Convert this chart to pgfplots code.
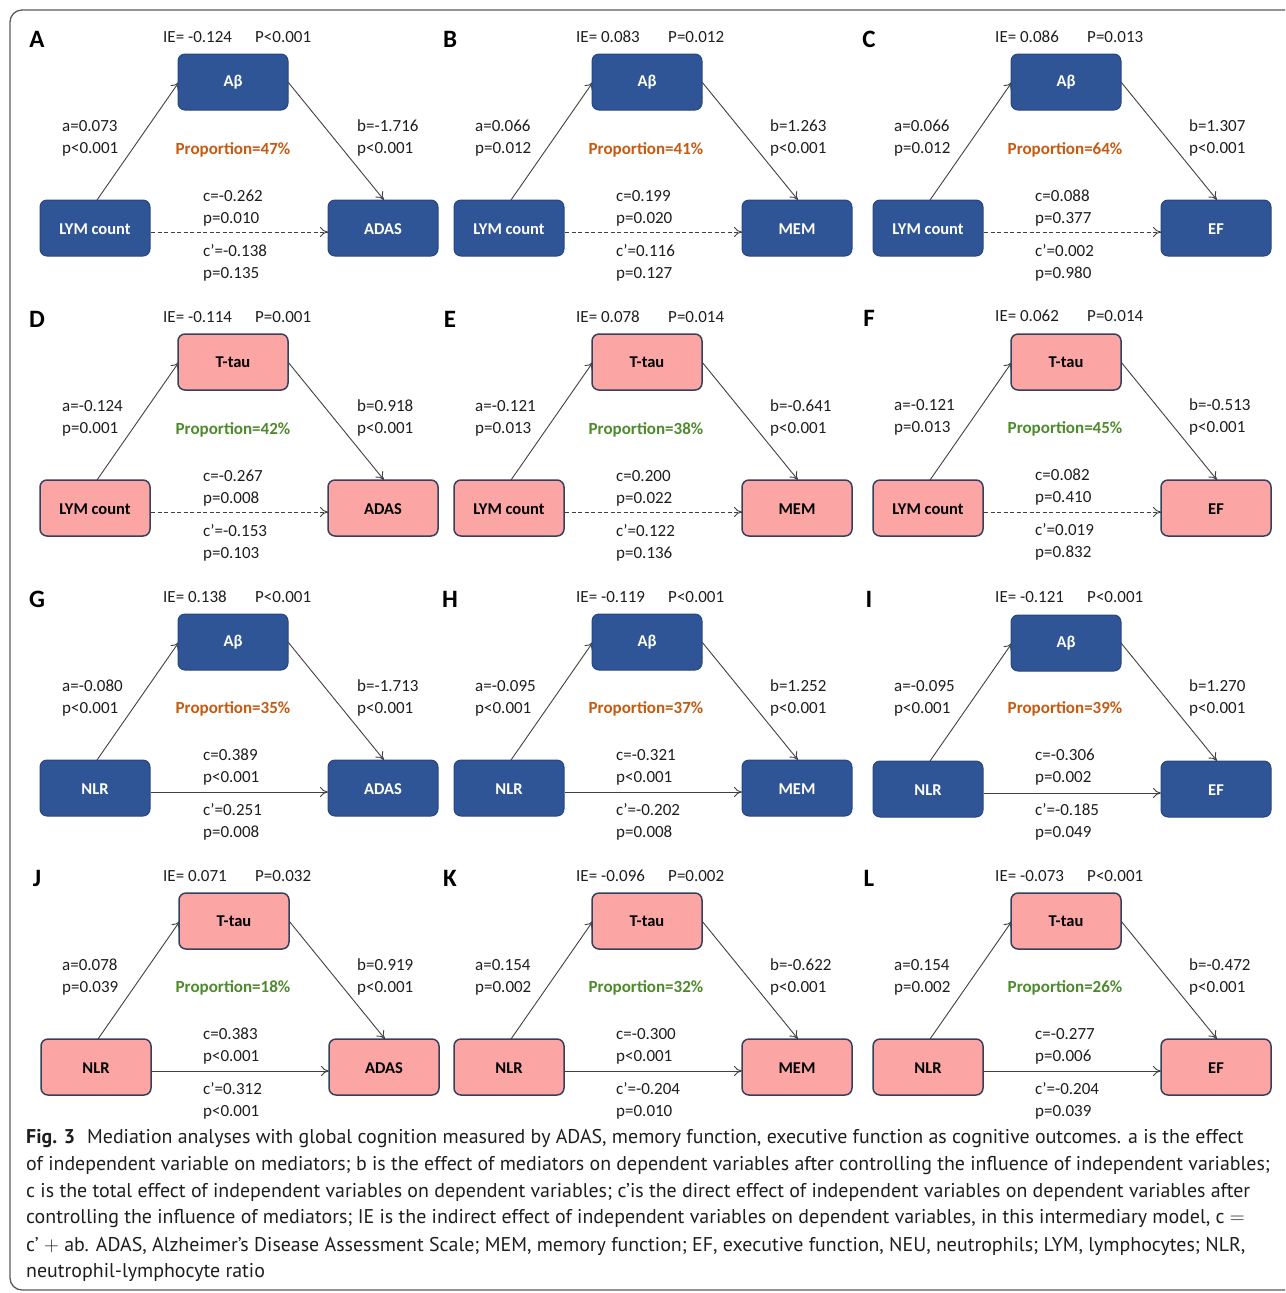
\documentclass[border=0pt]{standalone}
\usepackage{pgfplots}
\pgfplotsset{compat=1.18}
\usepackage{fontspec}
\setmainfont{Carlito}
\newfontfamily\capfont{PT Sans}
\usetikzlibrary{arrows.meta}
\definecolor{boxblue}{HTML}{2F5597}
\definecolor{boxblueedge}{HTML}{25467F}
\definecolor{boxpink}{HTML}{FCA5A5}
\definecolor{boxpinkedge}{HTML}{34405E}
\definecolor{proporange}{HTML}{C55A11}
\definecolor{propgreen}{HTML}{4E8A2C}
\definecolor{txt}{HTML}{1E1E1E}
\definecolor{linegray}{HTML}{404040}
\definecolor{framegray}{HTML}{5A5A5A}

\newcommand{\tf}{\fontsize{17bp}{20bp}\selectfont}
\newcommand{\boxfnt}{\fontsize{16.5bp}{20bp}\selectfont\bfseries}
\newcommand{\capf}{\capfont\fontsize{19.9bp}{24bp}\selectfont}

% rounded box: dx dy x1 y1 style
\newcommand{\bx}[5]{%
\addplot[#5, rounded corners=7bp] table[header=false,row sep=\\,
  x expr={#1+#3+\thisrowno{0}*110}, y expr={#2+#4+\thisrowno{1}*56}]
  {0.5 0\\ 1 0\\ 1 1\\ 0 1\\ 0 0\\ 0.5 0\\};}

% straight arrow: dx dy x1 y1 x2 y2 style
\newcommand{\arr}[7]{%
\addplot[linegray, line width=0.9bp, -{To[length=8bp,width=10bp]}, #7] table[header=false,row sep=\\,
  x expr={#1+\thisrowno{0}}, y expr={#2+\thisrowno{1}}]
  {#3 #4\\ #5 #6\\};}

% boxes and arrows: dx dy boxstyle textcolor mediator X Y linestyle
\newcommand{\diagram}[8]{%
 \arr{#1}{#2}{97}{200}{179}{82}{}
 \arr{#1}{#2}{288}{82}{384}{200}{}
 \arr{#1}{#2}{151}{232}{328}{232}{#8}
 \bx{#1}{#2}{178}{54}{#3}
 \bx{#1}{#2}{40}{200}{#3}
 \bx{#1}{#2}{328}{200}{#3}
 \node[font=\boxfnt, text=#4] at (axis cs:{233+#1},{82+#2}) {#5};
 \node[font=\boxfnt, text=#4] at (axis cs:{95+#1},{229+#2}) {#6};
 \node[font=\boxfnt, text=#4] at (axis cs:{383+#1},{229+#2}) {#7};
}
% labels: dx dy letter IE P a pa b pb
\newcommand{\labs}[9]{%
 \node[font=\fontsize{25bp}{28bp}\selectfont\bfseries, text=black] at (axis cs:{37+#1},{39+#2}) {#3};
 \node[anchor=west, inner sep=0pt, font=\tf, text=txt] at (axis cs:{163+#1},{37+#2}) {IE= #4};
 \node[anchor=west, inner sep=0pt, font=\tf, text=txt] at (axis cs:{255+#1},{37+#2}) {#5};
 \node[anchor=west, inner sep=0pt, font=\tf, text=txt] at (axis cs:{62+#1},{126+#2}) {#6};
 \node[anchor=west, inner sep=0pt, font=\tf, text=txt] at (axis cs:{62+#1},{149+#2}) {#7};
 \node[anchor=west, inner sep=0pt, font=\tf, text=txt] at (axis cs:{357+#1},{126+#2}) {#8};
 \node[anchor=west, inner sep=0pt, font=\tf, text=txt] at (axis cs:{357+#1},{149+#2}) {#9};
}
% middle: dx dy propcolor prop c pc cp pcp
\newcommand{\midl}[8]{%
 \node[inner sep=0pt, font=\tf\bfseries, text=#3] at (axis cs:{233+#1},{149.5+#2}) {Proportion=#4\%};
 \node[anchor=west, inner sep=0pt, font=\tf, text=txt] at (axis cs:{203+#1},{196+#2}) {#5};
 \node[anchor=west, inner sep=0pt, font=\tf, text=txt] at (axis cs:{203+#1},{219+#2}) {#6};
 \node[anchor=west, inner sep=0pt, font=\tf, text=txt] at (axis cs:{203+#1},{251+#2}) {#7};
 \node[anchor=west, inner sep=0pt, font=\tf, text=txt] at (axis cs:{203+#1},{274+#2}) {#8};
}

\begin{document}
\begin{tikzpicture}
\begin{axis}[
  width=1285bp, height=1293bp, scale only axis,
  xmin=0, xmax=1285, ymin=0, ymax=1293, y dir=reverse,
  hide axis, clip=false]
% extent
\addplot[draw=none, mark=none] coordinates {(0,0) (1285,1293)};
% frame
\addplot[framegray, line width=1.3bp, rounded corners=12bp, mark=none] coordinates {(1285,10) (10,10) (10,1290) (1285,1290)};

% ---------- row 1: A-beta, LYM ----------
\diagram{0}{0}{fill=boxblue, draw=boxblueedge, line width=1bp}{white}{Aβ}{LYM count}{ADAS}{dash pattern=on 4bp off 2.5bp}
\labs{0}{0}{A}{-0.124}{P<0.001}{a=0.073}{p<0.001}{b=-1.716}{p<0.001}
\midl{0}{0}{proporange}{47}{c=-0.262}{p=0.010}{c’=-0.138}{p=0.135}

\diagram{414}{0}{fill=boxblue, draw=boxblueedge, line width=1bp}{white}{Aβ}{LYM count}{MEM}{dash pattern=on 4bp off 2.5bp}
\labs{413}{0}{B}{0.083}{P=0.012}{a=0.066}{p=0.012}{b=1.263}{p<0.001}
\midl{413}{0}{proporange}{41}{c=0.199}{p=0.020}{c’=0.116}{p=0.127}

\diagram{833}{0}{fill=boxblue, draw=boxblueedge, line width=1bp}{white}{Aβ}{LYM count}{EF}{dash pattern=on 4bp off 2.5bp}
\labs{832}{0}{C}{0.086}{P=0.013}{a=0.066}{p=0.012}{b=1.307}{p<0.001}
\midl{832}{0}{proporange}{64}{c=0.088}{p=0.377}{c’=0.002}{p=0.980}

% ---------- row 2: T-tau, LYM ----------
\diagram{0}{280}{fill=boxpink, draw=boxpinkedge, line width=1.5bp}{black}{T-tau}{LYM count}{ADAS}{dash pattern=on 4bp off 2.5bp}
\labs{0}{280}{D}{-0.114}{P=0.001}{a=-0.124}{p=0.001}{b=0.918}{p<0.001}
\midl{0}{280}{propgreen}{42}{c=-0.267}{p=0.008}{c’=-0.153}{p=0.103}

\diagram{414}{280}{fill=boxpink, draw=boxpinkedge, line width=1.5bp}{black}{T-tau}{LYM count}{MEM}{dash pattern=on 4bp off 2.5bp}
\labs{413}{280}{E}{0.078}{P=0.014}{a=-0.121}{p=0.013}{b=-0.641}{p<0.001}
\midl{413}{280}{propgreen}{38}{c=0.200}{p=0.022}{c’=0.122}{p=0.136}

\diagram{833}{280}{fill=boxpink, draw=boxpinkedge, line width=1.5bp}{black}{T-tau}{LYM count}{EF}{dash pattern=on 4bp off 2.5bp}
\labs{832}{279}{F}{0.062}{P=0.014}{a=-0.121}{p=0.013}{b=-0.513}{p<0.001}
\midl{832}{279}{propgreen}{45}{c=0.082}{p=0.410}{c’=0.019}{p=0.832}

% ---------- row 3: A-beta, NLR ----------
\diagram{0}{560}{fill=boxblue, draw=boxblueedge, line width=1bp}{white}{Aβ}{NLR}{ADAS}{solid}
\labs{0}{560}{G}{0.138}{P<0.001}{a=-0.080}{p<0.001}{b=-1.713}{p<0.001}
\midl{0}{559}{proporange}{35}{c=0.389}{p<0.001}{c’=0.251}{p=0.008}

\diagram{414}{560}{fill=boxblue, draw=boxblueedge, line width=1bp}{white}{Aβ}{NLR}{MEM}{solid}
\labs{413}{560}{H}{-0.119}{P<0.001}{a=-0.095}{p<0.001}{b=1.252}{p<0.001}
\midl{413}{559}{proporange}{37}{c=-0.321}{p<0.001}{c’=-0.202}{p=0.008}

\diagram{833}{561}{fill=boxblue, draw=boxblueedge, line width=1bp}{white}{Aβ}{NLR}{EF}{solid}
\labs{832}{560}{I}{-0.121}{P<0.001}{a=-0.095}{p<0.001}{b=1.270}{p<0.001}
\midl{832}{559}{proporange}{39}{c=-0.306}{p=0.002}{c’=-0.185}{p=0.049}

% ---------- row 4: T-tau, NLR ----------
\diagram{1}{839}{fill=boxpink, draw=boxpinkedge, line width=1.5bp}{black}{T-tau}{NLR}{ADAS}{solid}
\labs{0}{839}{J}{0.071}{P=0.032}{a=0.078}{p=0.039}{b=0.919}{p<0.001}
\midl{0}{838}{propgreen}{18}{c=0.383}{p<0.001}{c’=0.312}{p<0.001}

\diagram{414}{839}{fill=boxpink, draw=boxpinkedge, line width=1.5bp}{black}{T-tau}{NLR}{MEM}{solid}
\labs{413}{839}{K}{-0.096}{P=0.002}{a=0.154}{p=0.002}{b=-0.622}{p<0.001}
\midl{413}{838}{propgreen}{32}{c=-0.300}{p<0.001}{c’=-0.204}{p=0.010}

\diagram{833}{839}{fill=boxpink, draw=boxpinkedge, line width=1.5bp}{black}{T-tau}{NLR}{EF}{solid}
\labs{832}{839}{L}{-0.073}{P<0.001}{a=0.154}{p=0.002}{b=-0.472}{p<0.001}
\midl{832}{838}{propgreen}{26}{c=-0.277}{p=0.006}{c’=-0.204}{p=0.039}

% ---------- caption ----------
\node[anchor=west, inner sep=0pt, font=\capf, text=txt] at (axis cs:26,1139) {\textbf{Fig. 3}\hspace{0.6em}Mediation analyses with global cognition measured by ADAS, memory function, executive function as cognitive outcomes. a is the effect};
\node[anchor=west, inner sep=0pt, font=\capf, text=txt] at (axis cs:26,1166) {of independent variable on mediators; b is the effect of mediators on dependent variables after controlling the influence of independent variables;};
\node[anchor=west, inner sep=0pt, font=\capf, text=txt] at (axis cs:26,1192) {c is the total effect of independent variables on dependent variables; c’is the direct effect of independent variables on dependent variables after};
\node[anchor=west, inner sep=0pt, font=\capf, text=txt] at (axis cs:26,1219) {controlling the influence of mediators; IE is the indirect effect of independent variables on dependent variables, in this intermediary model, c $=$};
\node[anchor=west, inner sep=0pt, font=\capf, text=txt] at (axis cs:26,1246) {c’ $+$ ab. ADAS, Alzheimer’s Disease Assessment Scale; MEM, memory function; EF, executive function, NEU, neutrophils; LYM, lymphocytes; NLR,};
\node[anchor=west, inner sep=0pt, font=\capf, text=txt] at (axis cs:26,1272) {neutrophil-lymphocyte ratio};
\end{axis}
\end{tikzpicture}
\end{document}
